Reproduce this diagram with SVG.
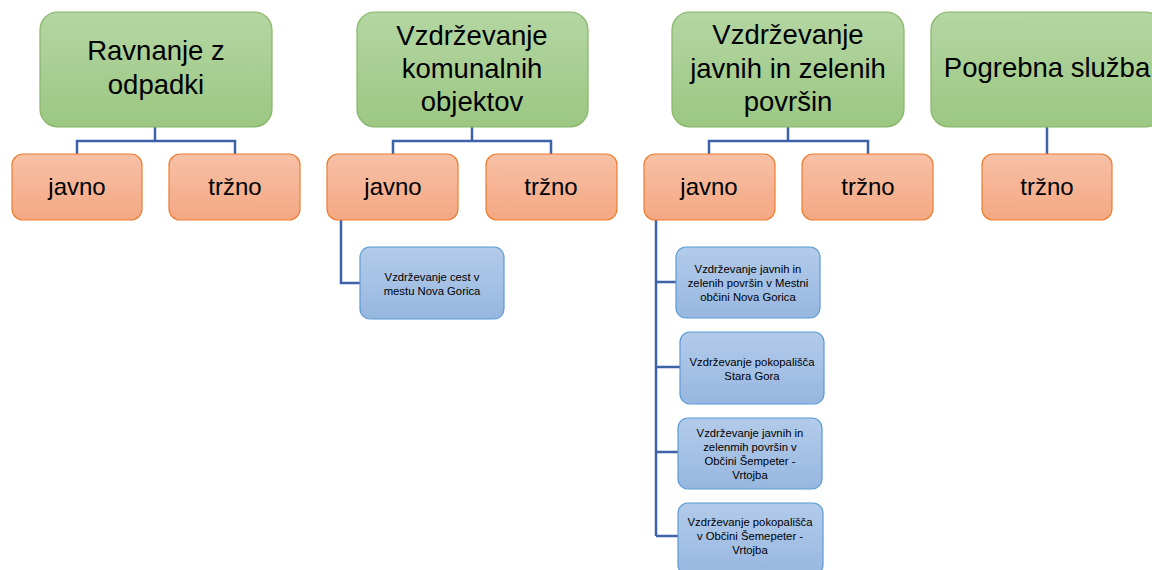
<svg xmlns="http://www.w3.org/2000/svg" width="1152" height="570" viewBox="0 0 1152 570">
<defs>
<linearGradient id="gG" x1="0" y1="0" x2="0" y2="1"><stop offset="0" stop-color="#b4d6a3"/><stop offset="1" stop-color="#9cc782"/></linearGradient>
<linearGradient id="gO" x1="0" y1="0" x2="0" y2="1"><stop offset="0" stop-color="#f7c0a6"/><stop offset="1" stop-color="#f4a883"/></linearGradient>
<linearGradient id="gB" x1="0" y1="0" x2="0" y2="1"><stop offset="0" stop-color="#b3cbea"/><stop offset="1" stop-color="#97b7e0"/></linearGradient>
</defs>
<style>
.g{fill:url(#gG);stroke:#85b566;stroke-width:1.2}
.o{fill:url(#gO);stroke:#ed7d31;stroke-width:1.2}
.b{fill:url(#gB);stroke:#5b9bd5;stroke-width:1.2}
text{font-family:"Liberation Sans",Arial,sans-serif;fill:#000;text-anchor:middle}
.tg{font-size:27.5px}
.to{font-size:24px}
.tb{font-size:11.3px}
.c{fill:none;stroke:#3d62a8;stroke-width:2.5}
</style>
<rect width="1152" height="570" fill="#fff"/>
<g id="connectors">
<path class="c" d="M155 127V141M77 154V141H235V154"/>
<path class="c" d="M472 127V141M393 154V141H551V154"/>
<path class="c" d="M341 220V283H360"/>
<path class="c" d="M788 127V141M709 154V141H868V154"/>
<path class="c" d="M1047 127V154"/>
<path class="c" d="M656 220V536M656 282H676M656 367H680M656 452H678M656 536H678"/>
</g>
<g id="n1"><rect class="g" x="40" y="12" width="232" height="115" rx="18"/><text class="tg" x="156" y="60">Ravnanje z</text><text class="tg" x="156" y="94">odpadki</text></g>
<g id="n2"><rect class="g" x="357" y="12" width="231" height="115" rx="18"/><text class="tg" x="472" y="45">Vzdrževanje</text><text class="tg" x="472" y="78">komunalnih</text><text class="tg" x="472" y="111">objektov</text></g>
<g id="n3"><rect class="g" x="672" y="12" width="232" height="115" rx="18"/><text class="tg" x="788" y="44">Vzdrževanje</text><text class="tg" x="788" y="78">javnih in zelenih</text><text class="tg" x="788" y="111">površin</text></g>
<g id="n4"><rect class="g" x="931" y="12" width="232" height="115" rx="18"/><text class="tg" x="1047" y="77">Pogrebna služba</text></g>
<g id="n5"><rect class="o" x="12" y="154" width="130" height="66" rx="11"/><text class="to" x="77" y="195">javno</text></g>
<g id="n6"><rect class="o" x="169" y="154" width="131" height="66" rx="11"/><text class="to" x="235" y="195">tržno</text></g>
<g id="n7"><rect class="o" x="327" y="154" width="131" height="66" rx="11"/><text class="to" x="393" y="195">javno</text></g>
<g id="n8"><rect class="o" x="486" y="154" width="131" height="66" rx="11"/><text class="to" x="551" y="195">tržno</text></g>
<g id="n9"><rect class="o" x="644" y="154" width="131" height="66" rx="11"/><text class="to" x="709" y="195">javno</text></g>
<g id="n10"><rect class="o" x="802" y="154" width="131" height="66" rx="11"/><text class="to" x="868" y="195">tržno</text></g>
<g id="n11"><rect class="o" x="982" y="154" width="130" height="66" rx="11"/><text class="to" x="1047" y="195">tržno</text></g>
<g id="n12"><rect class="b" x="360" y="247" width="144" height="72" rx="10"/><text class="tb" x="432" y="281">Vzdrževanje cest v</text><text class="tb" x="432" y="295">mestu Nova Gorica</text></g>
<g id="n13"><rect class="b" x="676" y="247" width="144" height="71" rx="10"/><text class="tb" x="748" y="273">Vzdrževanje javnih in</text><text class="tb" x="748" y="287">zelenih površin v Mestni</text><text class="tb" x="748" y="301">občini Nova Gorica</text></g>
<g id="n14"><rect class="b" x="680" y="332" width="144" height="72" rx="10"/><text class="tb" x="752" y="366">Vzdrževanje pokopališča</text><text class="tb" x="752" y="380">Stara Gora</text></g>
<g id="n15"><rect class="b" x="678" y="418" width="144" height="71" rx="10"/><text class="tb" x="750" y="437">Vzdrževanje javnih in</text><text class="tb" x="750" y="451">zelenmih površin v</text><text class="tb" x="750" y="465">Občini Šempeter -</text><text class="tb" x="750" y="479">Vrtojba</text></g>
<g id="n16"><rect class="b" x="678" y="503" width="145" height="72" rx="10"/><text class="tb" x="750" y="526">Vzdrževanje pokopališča</text><text class="tb" x="750" y="540">v Občini Šemepeter -</text><text class="tb" x="750" y="554">Vrtojba</text></g>
</svg>
